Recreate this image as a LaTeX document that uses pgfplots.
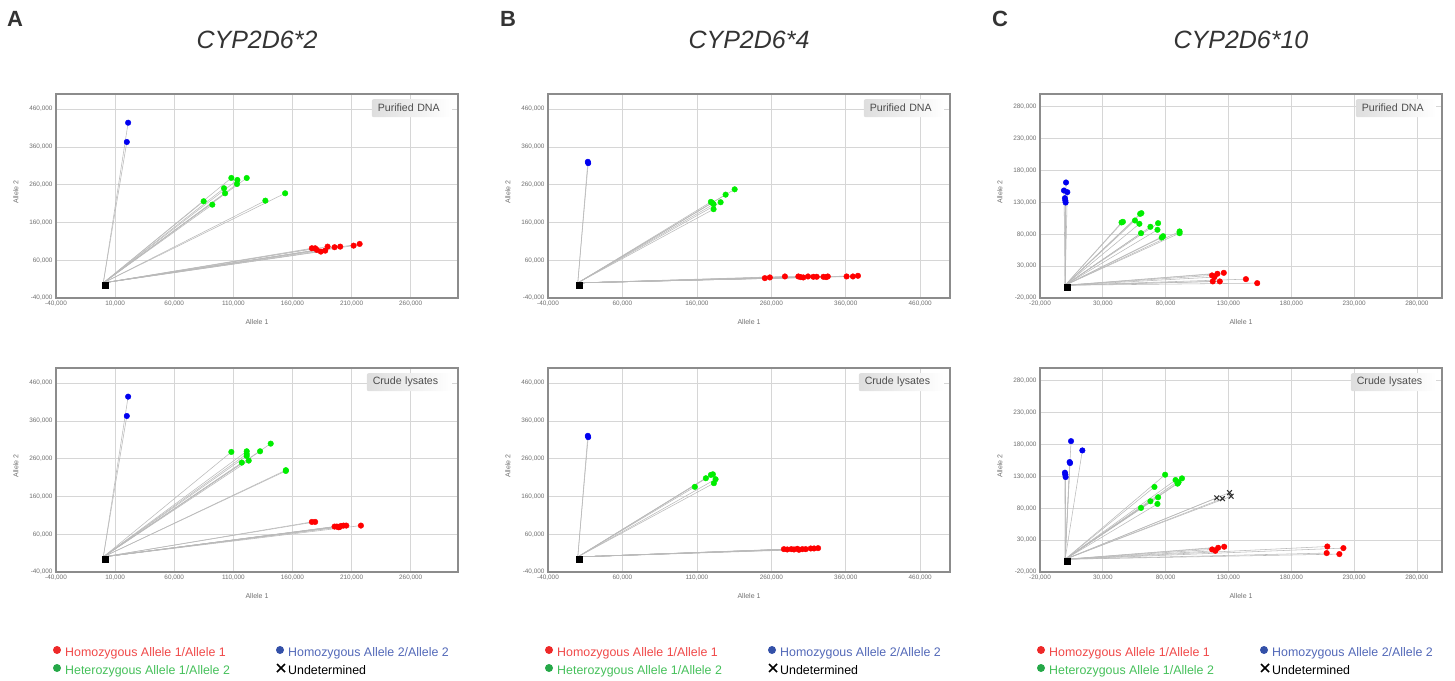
\documentclass[border=0pt]{standalone}
\usepackage{pgfplots}
\pgfplotsset{compat=1.18}
\usepackage{pgfplotstable}
\usepackage{fontspec}
\setmainfont{Liberation Sans}

\definecolor{axgray}{HTML}{8C8C8C}
\definecolor{gridgray}{HTML}{D6D6D6}
\definecolor{tickgray}{HTML}{707070}
\definecolor{linegray}{HTML}{BABABA}
\definecolor{ptred}{HTML}{FF0000}
\definecolor{ptgreen}{HTML}{00EE00}
\definecolor{ptblue}{HTML}{0000F0}
\definecolor{titlegray}{HTML}{333333}
\definecolor{lgred}{HTML}{F04848}
\definecolor{lggreen}{HTML}{45C05A}
\definecolor{lgblue}{HTML}{5268B8}
\definecolor{dotred}{HTML}{EE2828}
\definecolor{dotgreen}{HTML}{25A848}
\definecolor{dotblue}{HTML}{3350A8}

% x y g  (r = hom. allele 1, g = het., b = hom. allele 2, u = undetermined, n = NTC)
\pgfplotstableread{
x y g
1500 -5000 n
21000 424000 b
19900 373000 b
108300 277800 g
113400 272400 g
113100 261900 g
121300 277700 g
102100 250500 g
103000 237200 g
84900 216100 g
92200 207100 g
137100 217700 g
153800 237200 g
176400 91700 r
179200 91700 r
180700 87200 r
184000 82800 r
187700 85400 r
189700 96000 r
195600 94400 r
200400 96000 r
211700 98600 r
216800 103100 r
}\Atop

\pgfplotstableread{
x y g
1500 -5000 n
21000 424200 b
19900 373000 b
108300 277800 g
121300 279600 g
121300 272500 g
121300 267200 g
132600 279600 g
141600 299800 g
117100 249600 g
123000 254900 g
154400 227500 g
154400 229500 g
176400 92600 r
179200 92600 r
195600 80300 r
197500 80300 r
199000 78500 r
199800 79000 r
201000 82000 r
203200 82900 r
205500 82900 r
217900 82900 r
}\Abot

\pgfplotstableread{
x y g
2400 -6650 n
13500 320500 b
14000 317000 b
178800 214400 g
182400 208200 g
182400 195100 g
191900 213500 g
198600 233600 g
210750 247700 g
180500 212000 g
251250 12600 r
258000 14400 r
278250 17000 r
296250 17000 r
299400 15300 r
303000 14400 r
309300 17000 r
316500 16150 r
321000 16150 r
330000 16150 r
333600 15300 r
335850 17000 r
361050 17000 r
369600 17000 r
376350 18800 r
}\Btop

\pgfplotstableread{
x y g
2400 -6650 n
13500 320500 b
14000 317000 b
157200 185400 g
172050 208200 g
178800 217000 g
181500 218700 g
185100 205600 g
182850 195100 g
276900 20500 r
281400 19650 r
286800 20500 r
290400 19650 r
294900 21400 r
297150 18800 r
301650 20500 r
306150 20500 r
312900 22300 r
317400 22300 r
322800 23150 r
}\Bbot

\pgfplotstableread{
x y g
2000 -2400 n
700 161200 b
-940 148600 b
1730 146000 b
-140 136600 b
130 133000 b
400 129800 b
46000 99500 g
44900 98500 g
60700 113100 g
59700 112000 g
55600 101600 g
59100 96400 g
74000 97400 g
67900 91700 g
73500 87000 g
60400 81700 g
76900 74900 g
78000 77000 g
91100 84400 g
91100 81700 g
116900 15400 r
121200 18000 r
126300 19500 r
118800 12800 r
117500 6000 r
123100 6000 r
143900 9600 r
152900 3300 r
}\Ctop

\pgfplotstableread{
x y g
2000 -2800 n
4700 185300 b
13700 170700 b
3900 150900 b
3600 152500 b
-140 135800 b
130 132700 b
400 129000 b
79600 132600 g
71100 113400 g
87900 124300 g
90300 120700 g
93000 126900 g
89500 118600 g
67900 91000 g
74000 97200 g
73500 86800 g
60400 80500 g
120700 96200 u
125200 95200 u
130800 104500 u
132100 98800 u
117000 15400 r
119600 13300 r
121800 18000 r
126600 19600 r
208700 20000 r
221500 17500 r
208200 9700 r
218300 8100 r
}\Cbot

\pgfplotsset{
  panel/.style={
    scale only axis, width=402bp, height=204bp, anchor=south west,
    axis line style={draw=axgray, line width=1.2bp},
    grid=major, grid style={draw=gridgray, line width=0.7bp},
    major tick length=0pt,
    tick label style={font=\fontsize{6.4bp}{7bp}\selectfont, text=tickgray},
    scaled ticks=false,
    /pgf/number format/fixed,
    /pgf/number format/1000 sep={,},
    /pgf/number format/assume math mode=true,
    xlabel={Allele 1}, ylabel={Allele 2},
    label style={font=\fontsize{7bp}{8bp}\selectfont, text=tickgray},
    x label style={at={(axis description cs:0.5,-0.118)}, anchor=center},
    y label style={at={(axis description cs:-0.1,0.52)}, anchor=center},
  },
  wideA/.style={xmin=-40000, xmax=300000, ymin=-40000, ymax=500000,
    xtick={-40000,10000,60000,110000,160000,210000,260000},
    ytick={-40000,60000,160000,260000,360000,460000}},
  wideB/.style={xmin=-40000, xmax=500000, ymin=-40000, ymax=500000,
    xtick={-40000,60000,160000,260000,360000,460000},
    ytick={-40000,60000,160000,260000,360000,460000}},
  wideC/.style={xmin=-20000, xmax=300000, ymin=-20000, ymax=300000,
    xtick={-20000,30000,80000,130000,180000,230000,280000},
    ytick={-20000,30000,80000,130000,180000,230000,280000}},
  pts/.style={scatter, only marks, scatter src=explicit symbolic, mark size=2.8bp,
    scatter/classes={
      r={mark=*, ptred}, g={mark=*, ptgreen}, b={mark=*, ptblue},
      u={mark=x, black!80, line width=1.1bp, mark size=3.4bp},
      n={mark=square*, black, mark size=3bp}}},
  rays/.style={linegray, line width=0.55bp, -, quiver={u=\thisrow{x}, v=\thisrow{y}}},
}

\tikzset{
  tag/.style={left color=black!13, right color=white, rounded corners=2bp,
    minimum height=18bp, inner ysep=0pt, inner xsep=6bp, align=left,
    text=black!70, font=\fontsize{10.6bp}{12bp}\selectfont, anchor=north east},
  legtxt/.style={anchor=base west, inner sep=0pt, font=\fontsize{12.4bp}{14bp}\selectfont},
}

\newcommand\panelhead[4]{% left of box, letter, letter x, title
  \node[anchor=base west, inner sep=0pt, text=titlegray,
    font=\fontsize{22bp}{24bp}\selectfont\bfseries] at (#3bp,-26bp) {#2};
  \node[anchor=base, inner sep=0pt, text=titlegray,
    font=\fontsize{25bp}{28bp}\selectfont\itshape] at ({#1bp+201bp},-48bp) {#4};
}
\newcommand\legendat[1]{%
  \fill[dotred] ({#1bp+1bp},-650bp) circle (4bp);
  \node[legtxt, text=lgred] at ({#1bp+9bp},-656bp) {Homozygous Allele 1/Allele 1};
  \fill[dotgreen] ({#1bp+1bp},-668bp) circle (4bp);
  \node[legtxt, text=lggreen] at ({#1bp+9bp},-674bp) {Heterozygous Allele 1/Allele 2};
  \fill[dotblue] ({#1bp+224bp},-650bp) circle (4bp);
  \node[legtxt, text=lgblue] at ({#1bp+232bp},-656bp) {Homozygous Allele 2/Allele 2};
  \draw[black, line width=1.6bp] ({#1bp+221bp},-664bp) -- ({#1bp+229bp},-672bp)
    ({#1bp+221bp},-672bp) -- ({#1bp+229bp},-664bp);
  \node[legtxt, text=black] at ({#1bp+232bp},-674bp) {Undetermined};
}

\begin{document}
\begin{tikzpicture}
\path[use as bounding box] (0,0) rectangle (1455bp,-681bp);

% ---- A ----
\begin{axis}[panel, wideA, at={(56bp,-298bp)}]
\addplot[rays] table[x expr=0, y expr=0] {\Atop};
\addplot[pts] table[x=x, y=y, meta=g] {\Atop};
\end{axis}
\begin{axis}[panel, wideA, at={(56bp,-572bp)}]
\addplot[rays] table[x expr=0, y expr=0] {\Abot};
\addplot[pts] table[x=x, y=y, meta=g] {\Abot};
\end{axis}

% ---- B ----
\begin{axis}[panel, wideB, at={(548bp,-298bp)}]
\addplot[rays] table[x expr=0, y expr=0] {\Btop};
\addplot[pts] table[x=x, y=y, meta=g] {\Btop};
\end{axis}
\begin{axis}[panel, wideB, at={(548bp,-572bp)},
  xticklabels={{-40,000},{60,000},{110,000},{260,000},{360,000},{460,000}}]
\addplot[rays] table[x expr=0, y expr=0] {\Bbot};
\addplot[pts] table[x=x, y=y, meta=g] {\Bbot};
\end{axis}

% ---- C ----
\begin{axis}[panel, wideC, at={(1040bp,-298bp)}]
\addplot[rays] table[x expr=0, y expr=0] {\Ctop};
\addplot[pts] table[x=x, y=y, meta=g] {\Ctop};
\end{axis}
\begin{axis}[panel, wideC, at={(1040bp,-572bp)}]
\addplot[rays] table[x expr=0, y expr=0] {\Cbot};
\addplot[pts] table[x=x, y=y, meta=g] {\Cbot};
\end{axis}

% sample-type tags
\node[tag, text width=68bp] at (452bp,-99bp) {Purified DNA};
\node[tag, text width=73bp] at (452bp,-373bp) {Crude lysates};
\node[tag, text width=68bp] at (944bp,-99bp) {Purified DNA};
\node[tag, text width=73bp] at (944bp,-373bp) {Crude lysates};
\node[tag, text width=68bp] at (1436bp,-99bp) {Purified DNA};
\node[tag, text width=73bp] at (1436bp,-373bp) {Crude lysates};

\panelhead{56}{A}{7}{CYP2D6*2}
\panelhead{548}{B}{500}{CYP2D6*4}
\panelhead{1040}{C}{992}{CYP2D6*10}

\legendat{56}
\legendat{548}
\legendat{1040}
\end{tikzpicture}
\end{document}
